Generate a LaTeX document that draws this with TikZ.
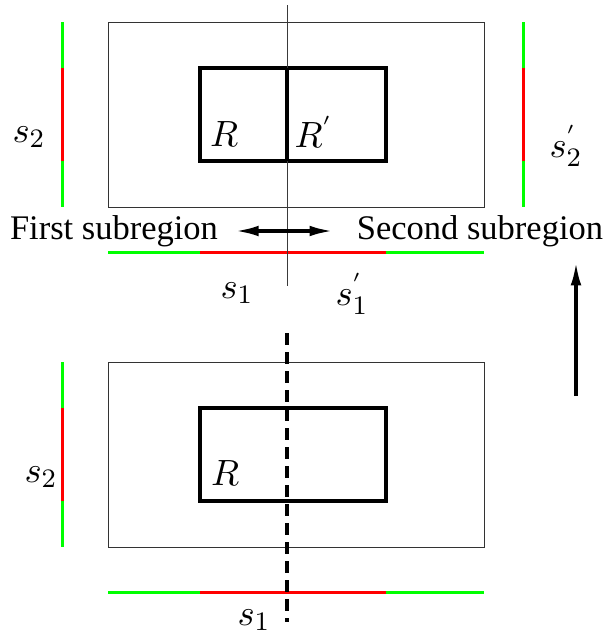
\documentclass[tikz,border=0pt]{standalone}
\usepackage[no-math]{fontspec}
\setmainfont{Liberation Serif}
\usepackage{tikz}
\usetikzlibrary{arrows.meta}
\definecolor{segred}{HTML}{FF0000}
\definecolor{seggreen}{HTML}{00FF00}
\definecolor{cutgray}{HTML}{3A3A3A}
\tikzset{
  frame/.style={draw=black!80,line width=0.3pt},
  region/.style={draw=black,line width=1pt},
  gseg/.style={draw=seggreen,line width=0.9pt},
  rseg/.style={draw=segred,line width=0.9pt},
  cut/.style={draw=cutgray,line width=0.3pt},
  dcut/.style={draw=black,line width=1pt,dash pattern=on 3.6pt off 2.1pt},
  lbl/.style={inner sep=0pt},
  mlbl/.style={inner sep=0pt,font=\fontsize{10.9}{13}\selectfont},
  arr/.style={-{Latex[length=7pt,width=3.2pt]},line width=1pt},
  darr/.style={{Latex[length=7pt,width=3.2pt]}-{Latex[length=7pt,width=3.2pt]},line width=1pt},
}

\begin{document}
\begin{tikzpicture}[x=0.3pt,y=-0.3pt,font=\fontsize{10.35}{12.4}\selectfont]
  \useasboundingbox (0,0) rectangle (604,636);
  % both panels: outer box, inner region, side and bottom bars
  \foreach \dy in {0,340}{
    \draw[frame] (108,22+\dy) rectangle (484,207+\dy);
    \draw[region] (200,68+\dy) rectangle (386,161+\dy);
    \draw[gseg] (62,22+\dy) -- (62,68+\dy);
    \draw[rseg] (62,68+\dy) -- (62,161+\dy);
    \draw[gseg] (62,161+\dy) -- (62,207+\dy);
    \draw[gseg] (108,252+\dy) -- (200,252+\dy);
    \draw[rseg] (200,252+\dy) -- (386,252+\dy);
    \draw[gseg] (386,252+\dy) -- (484,252+\dy);
  }
  % right bar of the split panel
  \draw[gseg] (523,22) -- (523,68);
  \draw[rseg] (523,68) -- (523,161);
  \draw[gseg] (523,161) -- (523,207);
  % split line
  \coordinate (cuttop) at (287,5);
  \coordinate (cutbot) at (287,286);
  \draw[cut] (cuttop) -- (cutbot);
  \draw[region] (287,68) -- (287,161);
  \coordinate (dcuttop) at (287,333);
  \coordinate (dcutbot) at (287,622);
  \draw[dcut] (dcuttop) -- (dcutbot);
  % labels
  \node[mlbl] (rA) at (224,134) {$R$};
  \node[mlbl] (rB) at (314,132) {$R^{'}$};
  \node[mlbl] (s2A) at (29,137) {$s_{2}$};
  \node[mlbl] (s2B) at (566,146) {$s^{'}_{2}$};
  \node[mlbl] (s1A) at (237,293) {$s_{1}$};
  \node[mlbl] (s1B) at (352,294) {$s^{'}_{1}$};
  \node[mlbl] (rC) at (225,473) {$R$};
  \node[mlbl] (s2C) at (41,477) {$s_{2}$};
  \node[mlbl] (s1C) at (254,620) {$s_{1}$};
  \node[lbl] (first) at (114,231) {First subregion};
  \node[lbl] (second) at (480,231) {Second subregion};
  \draw[darr,shorten <=5pt,shorten >=7pt] (first.east) -- (second.west);
  \coordinate (upfoot) at (576,396);
  \coordinate (uptip) at (576,262);
  \draw[arr] (upfoot) -- (uptip);
\end{tikzpicture}
\end{document}
